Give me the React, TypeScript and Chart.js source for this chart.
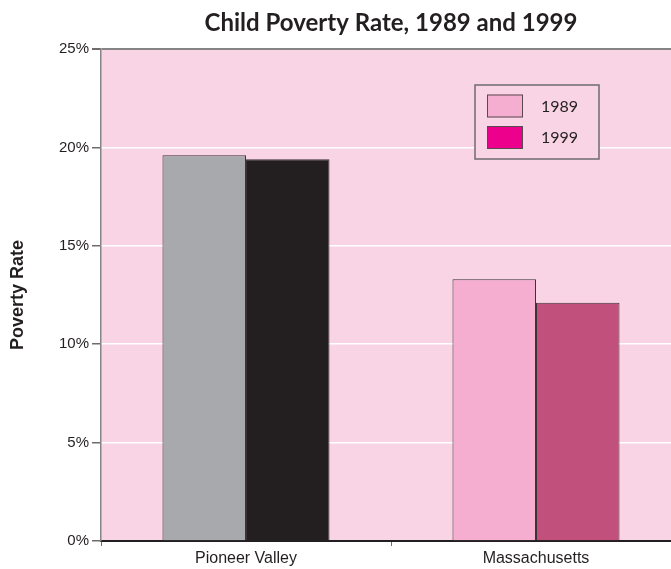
import { useEffect, useRef } from 'react';
import { Chart, registerables } from 'chart.js';

Chart.register(...registerables);

const categories = ['Pioneer Valley', 'Massachusetts'];
const years = ['1989', '1999'];
const rate1989 = [19.6, 13.3];
const rate1999 = [19.4, 12.1];
const yTickStep = 5;
const yMax = 25;

const barColors1989 = ['#a7a9ac', '#f5aecf'];
const barColors1999 = ['#231f20', '#c1507c'];
const legendColors = ['#f5aecf', '#ec008c'];

const plotBg = '#f9d4e5';
const ink = '#231f20';

const W = 690;
const H = 569;

const plotBackground = {
  id: 'plotBackground',
  beforeDraw(chart: any) {
    const { ctx, chartArea } = chart;
    ctx.save();
    ctx.fillStyle = plotBg;
    ctx.fillRect(chartArea.left, chartArea.top, chartArea.right - chartArea.left, chartArea.bottom - chartArea.top);
    ctx.restore();
  },
};

const titleAndLegend = {
  id: 'titleAndLegend',
  afterDraw(chart: any) {
    const { ctx, chartArea } = chart;
    ctx.save();
    // heading centred over the plot
    ctx.fillStyle = ink;
    ctx.font = 'bold 24px Lato';
    ctx.textAlign = 'center';
    ctx.textBaseline = 'alphabetic';
    ctx.fillText('Child Poverty Rate, 1989 and 1999', (chartArea.left + chartArea.right) / 2, 31);

    // boxed legend inside the plot
    const bx = 475, by = 85, bw = 124, bh = 74;
    ctx.fillStyle = plotBg;
    ctx.fillRect(bx, by, bw, bh);
    ctx.strokeStyle = '#6f6a6c';
    ctx.lineWidth = 1.5;
    ctx.strokeRect(bx, by, bw, bh);
    chart.data.datasets.forEach((ds: any, i: number) => {
      const sy = by + 9.5 + i * 31.5;
      ctx.fillStyle = legendColors[i];
      ctx.fillRect(bx + 12, sy, 36, 23);
      ctx.strokeStyle = '#5a4a50';
      ctx.lineWidth = 1;
      ctx.strokeRect(bx + 12.5, sy + 0.5, 35, 22);
      ctx.fillStyle = ink;
      ctx.font = '16px Lato';
      ctx.textAlign = 'left';
      ctx.textBaseline = 'middle';
      ctx.fillText(ds.label, bx + 66, sy + 12);
    });
    ctx.restore();
  },
};

export default function App() {
  const canvasRef = useRef<HTMLCanvasElement | null>(null);

  useEffect(() => {
    const canvas = canvasRef.current;
    if (!canvas) return;
    const chart = new Chart(canvas, {
      type: 'bar',
      data: {
        labels: categories,
        datasets: [
          {
            label: years[0],
            data: rate1989,
            backgroundColor: barColors1989,
            borderColor: '#3d3336',
            borderWidth: 1,
          },
          {
            label: years[1],
            data: rate1999,
            backgroundColor: barColors1999,
            borderColor: '#3d3336',
            borderWidth: 1,
          },
        ],
      },
      options: {
        responsive: false,
        animation: false,
        devicePixelRatio: 1,
        layout: { padding: { top: 49, right: 9, left: 0, bottom: 0 } },
        datasets: {
          bar: { barPercentage: 1, categoryPercentage: 0.576 },
        },
        plugins: {
          legend: { display: false },
          title: { display: false },
          tooltip: { enabled: false },
        },
        scales: {
          x: {
            afterFit(scale: any) {
              scale.height = 28;
            },
            grid: {
              display: true,
              drawOnChartArea: false,
              offset: true,
              tickLength: 5,
              tickColor: '#6f6a6c',
            },
            border: { display: true, color: ink, width: 2 },
            ticks: {
              color: ink,
              padding: 3,
              font: { family: 'Liberation Sans', size: 16 },
            },
          },
          y: {
            min: 0,
            max: yMax,
            afterFit(scale: any) {
              scale.width = 101;
            },
            ticks: {
              stepSize: yTickStep,
              color: ink,
              padding: 3,
              font: { family: 'Liberation Sans', size: 15 },
              callback: (v: any) => `${v}%`,
            },
            grid: {
              color: (c: any) =>
                c.tick && c.tick.value === yMax ? '#858585' : c.tick && c.tick.value === 0 ? 'rgba(0,0,0,0)' : '#ffffff',
              lineWidth: (c: any) => (c.tick && c.tick.value === yMax ? 2 : 1.5),
              tickLength: 9,
              tickColor: '#6f6a6c',
            },
            border: { display: true, color: '#858585', width: 1.5 },
            title: {
              display: true,
              text: 'Poverty Rate',
              color: ink,
              padding: { top: 7, bottom: 0 },
              font: { family: 'Liberation Sans', size: 18, weight: 'bold' },
            },
          },
        },
      },
      plugins: [plotBackground, titleAndLegend],
    });
    return () => chart.destroy();
  }, []);

  return (
    <div
      style={{
        position: 'fixed',
        left: 0,
        top: 0,
        width: 671,
        height: 569,
        overflow: 'hidden',
        background: '#ffffff',
      }}
    >
      <canvas ref={canvasRef} width={W} height={H} style={{ display: 'block', width: W, height: H }} />
    </div>
  );
}
